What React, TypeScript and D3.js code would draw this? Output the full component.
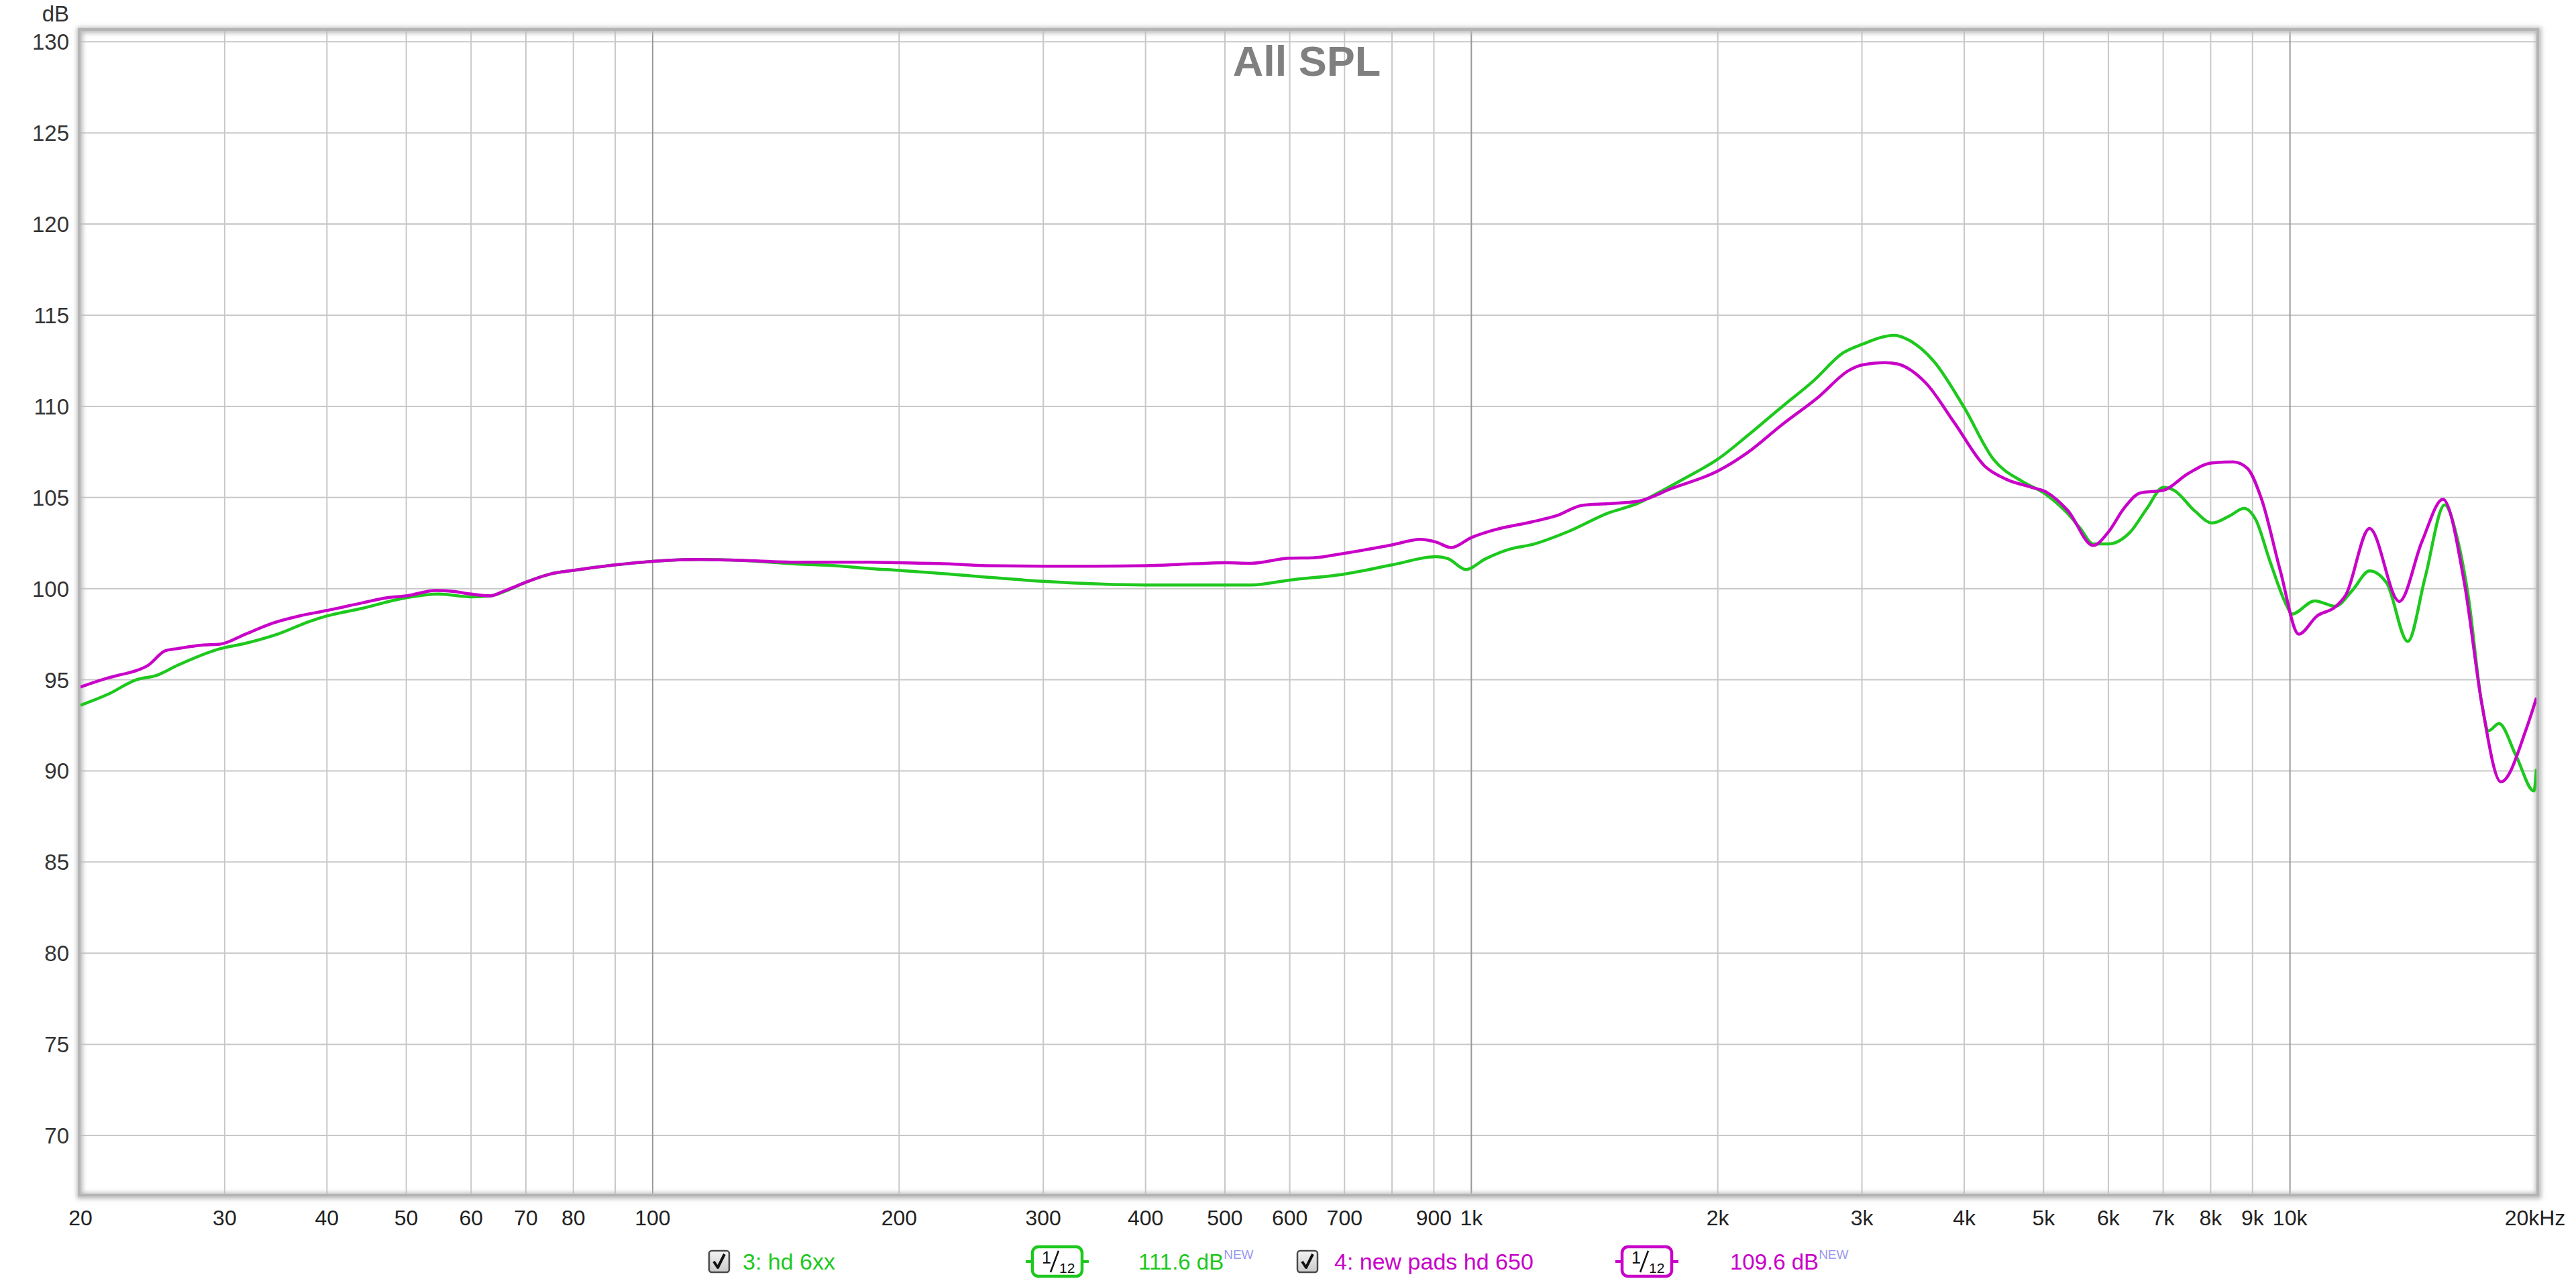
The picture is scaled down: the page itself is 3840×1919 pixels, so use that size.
import React from "react";
import * as d3 from "d3";

// Frequency response, "All SPL"
const hd6xxFreq = [
  20, 21.6, 23.4, 24.8, 26.3, 29.6, 31.8, 34.8, 38.1, 40, 44, 50, 54.8, 60, 63.3, 66, 70, 75, 80, 90,
  100, 114, 128, 150, 168, 184, 200, 245, 300, 400, 500, 538, 600, 700, 800, 906, 936, 985, 1040, 1121,
  1182, 1318, 1468, 1601, 1683, 1822, 2000, 2176, 2389, 2618, 2849, 3000, 3288, 3434, 3668, 4000, 4342,
  4714, 5000, 5356, 5545, 5748, 6000, 6380, 6688, 7000, 7215, 7647, 8034, 8445, 8784, 9086, 9436, 9924,
  10050, 10724, 11360, 11917, 12507, 13127, 13927, 14622, 15450, 16000, 16522, 17150, 17480, 18000,
  18900, 19860, 20000,
];
const hd6xxDb = [
  93.6, 94.2, 95.0, 95.25, 95.8, 96.7, 97.0, 97.5, 98.2, 98.5, 98.9, 99.5, 99.7, 99.55, 99.6, 99.85,
  100.35, 100.8, 101.0, 101.3, 101.5, 101.6, 101.55, 101.35, 101.25, 101.1, 101.0, 100.7, 100.4, 100.2,
  100.2, 100.2, 100.47, 100.8, 101.3, 101.75, 101.65, 101.05, 101.63, 102.2, 102.4, 103.16, 104.14,
  104.7, 105.2, 106.05, 107.1, 108.4, 109.93, 111.4, 112.95, 113.4, 113.9, 113.6, 112.5, 109.93, 107.1,
  105.87, 105.26, 104.1, 103.3, 102.45, 102.45, 103.1, 104.4, 105.55, 105.4, 104.27, 103.6, 104.0,
  104.4, 103.77, 101.6, 99.0, 98.6, 99.33, 99.03, 99.9, 100.97, 100.3, 97.1, 100.6, 104.6, 102.8, 99.5,
  93.7, 92.2, 92.6, 90.8, 88.9, 90.1,
];

const newPadsFreq = [
  20, 21.6, 22.5, 23.4, 24.2, 25.4, 26.2, 28.1, 29.6, 31.8, 34.3, 37, 40, 44, 47.4, 50, 54.3, 57, 60,
  63.3, 65.7, 70, 75, 80, 90, 100, 114, 128, 150, 184, 200, 230, 255, 300, 346, 400, 462, 500, 538, 600,
  640, 700, 800, 866, 906, 945, 1000, 1063, 1182, 1271, 1366, 1468, 1601, 1758, 2000, 2176, 2389, 2661,
  2889, 3000, 3201, 3311, 3587, 3891, 4236, 4502, 4826, 5038, 5356, 5748, 6000, 6268, 6565, 7011, 7500,
  8034, 8525, 8870, 9233, 9733, 10250, 10790, 11360, 11700, 12507, 13600, 14500, 15376, 16333, 17150,
  18100, 19470, 20000,
];
const newPadsDb = [
  94.6, 95.1, 95.3, 95.5, 95.8, 96.6, 96.7, 96.9, 96.95, 97.5, 98.1, 98.5, 98.8, 99.2, 99.5, 99.6, 99.9,
  99.85, 99.7, 99.6, 99.85, 100.35, 100.8, 101.0, 101.3, 101.5, 101.6, 101.55, 101.45, 101.45, 101.42,
  101.36, 101.26, 101.23, 101.23, 101.26, 101.37, 101.42, 101.39, 101.67, 101.69, 101.94, 102.4, 102.7,
  102.55, 102.25, 102.8, 103.2, 103.65, 104.0, 104.57, 104.66, 104.8, 105.5, 106.45, 107.47, 108.95,
  110.55, 111.96, 112.27, 112.4, 112.33, 111.3, 109.1, 106.73, 106.0, 105.57, 105.3, 104.27, 102.37,
  103.1, 104.4, 105.25, 105.4, 106.3, 106.9, 106.95, 106.6, 104.9, 100.97, 97.5, 98.5, 99.0, 99.65, 103.3,
  99.3, 102.6, 104.9, 100.3, 93.7, 89.4, 92.4, 94.0,
];

const gridFreqs = [
  30, 40, 50, 60, 70, 80, 90, 200, 300, 400, 500, 600, 700, 800, 900, 2000, 3000, 4000, 5000, 6000,
  7000, 8000, 9000,
];
const decadeFreqs = [100, 1000, 10000];
const xTickFreqs = [
  20, 30, 40, 50, 60, 70, 80, 100, 200, 300, 400, 500, 600, 700, 900, 1000, 2000, 3000, 4000, 5000,
  6000, 7000, 8000, 9000, 10000, 20000,
];
const xTickLabels = [
  "20", "30", "40", "50", "60", "70", "80", "100", "200", "300", "400", "500", "600", "700", "900",
  "1k", "2k", "3k", "4k", "5k", "6k", "7k", "8k", "9k", "10k", "20kHz",
];
const yTicks = [70, 75, 80, 85, 90, 95, 100, 105, 110, 115, 120, 125, 130];

const GREEN = "#1ec81e";
const MAGENTA = "#c800c8";
const FONT = "'Liberation Sans', Arial, sans-serif";

function Checkbox({ x, y }: { x: number; y: number }) {
  return (
    <g transform={`translate(${x},${y})`}>
      <rect x={0} y={0} width={30} height={32} rx={4} fill="url(#cbGrad)" stroke="#4a4a4a" strokeWidth={2.5} />
      <path d="M7,16 L13,25 L23,5" fill="none" stroke="#111" strokeWidth={4} strokeLinejoin="round" />
    </g>
  );
}

function Smoothing({ cx, cy, color }: { cx: number; cy: number; color: string }) {
  return (
    <g>
      <line x1={cx - 47} x2={cx + 47} y1={cy} y2={cy} stroke={color} strokeWidth={4} />
      <rect x={cx - 37} y={cy - 22} width={74} height={44} rx={9} fill="#fff" stroke={color} strokeWidth={4.5} />
      <text x={cx - 23} y={cy + 3} fontFamily={FONT} fontSize={25} fill="#111">1</text>
      <line x1={cx - 10} y1={cy + 16} x2={cx + 2} y2={cy - 16} stroke="#111" strokeWidth={2.5} />
      <text x={cx + 3} y={cy + 17} fontFamily={FONT} fontSize={21} fill="#111">12</text>
    </g>
  );
}

export default function App() {
  const W = 3840;
  const H = 1919;
  const left = 120;
  const right = 3781;
  const top = 46;
  const bottom = 1780;

  const x = d3.scaleLog().domain([20, 20000]).range([left, right]);
  const y = d3.scaleLinear().domain([66.8, 130.6]).range([bottom, top]);

  const line = d3
    .line<[number, number]>()
    .x((d) => x(d[0]))
    .y((d) => y(d[1]))
    .curve(d3.curveMonotoneX);

  const green = line(hd6xxFreq.map((f, i) => [f, hd6xxDb[i]] as [number, number])) || "";
  const magenta = line(newPadsFreq.map((f, i) => [f, newPadsDb[i]] as [number, number])) || "";

  const legendY = 1881;

  return (
    <svg
      width={W}
      height={H}
      style={{ position: "absolute", left: 0, top: 0, background: "#fff" }}
    >
      <defs>
        <clipPath id="plotClip">
          <rect x={left} y={top} width={right - left} height={bottom - top} />
        </clipPath>
        <filter id="frameShadow" x="-5%" y="-5%" width="110%" height="110%">
          <feGaussianBlur stdDeviation={3} />
        </filter>
        <linearGradient id="cbGrad" x1="0" y1="0" x2="0" y2="1">
          <stop offset="0%" stopColor="#f4f4f4" />
          <stop offset="100%" stopColor="#c8c8c8" />
        </linearGradient>
      </defs>

      <rect x={0} y={0} width={W} height={H} fill="#fff" />

      {/* grid */}
      {yTicks.map((t) => (
        <line key={`h${t}`} x1={left} x2={right} y1={y(t)} y2={y(t)} stroke="#c8c8c8" strokeWidth={2} />
      ))}
      {gridFreqs.map((f) => (
        <line key={`v${f}`} x1={x(f)} x2={x(f)} y1={top} y2={bottom} stroke="#c8c8c8" strokeWidth={2} />
      ))}
      {decadeFreqs.map((f) => (
        <line key={`d${f}`} x1={x(f)} x2={x(f)} y1={top} y2={bottom} stroke="#999" strokeWidth={2} />
      ))}

      {/* frame */}
      <rect
        x={left - 1}
        y={top - 1}
        width={right - left + 4}
        height={bottom - top + 4}
        fill="none"
        stroke="#bdbdbd"
        strokeWidth={9}
        filter="url(#frameShadow)"
      />
      <rect
        x={left - 2}
        y={top - 2}
        width={right - left + 4}
        height={bottom - top + 4}
        fill="none"
        stroke="#b4b4b4"
        strokeWidth={4}
      />

      {/* curves */}
      <g clipPath="url(#plotClip)">
        <path d={green} fill="none" stroke={GREEN} strokeWidth={4.5} strokeLinejoin="round" />
        <path d={magenta} fill="none" stroke={MAGENTA} strokeWidth={4.5} strokeLinejoin="round" />
      </g>

      {/* title */}
      <text
        x={1948}
        y={113}
        textAnchor="middle"
        fontFamily={FONT}
        fontWeight="bold"
        fontSize={63}
        fill="#808080"
      >
        All SPL
      </text>

      {/* y axis */}
      <text x={103} y={32} textAnchor="end" fontFamily={FONT} fontSize={33} fill="#333">
        dB
      </text>
      {yTicks.map((t) => (
        <text
          key={`yl${t}`}
          x={103}
          y={y(t) + 12}
          textAnchor="end"
          fontFamily={FONT}
          fontSize={33}
          fill="#333"
        >
          {t}
        </text>
      ))}

      {/* x axis */}
      {xTickFreqs.map((f, i) => (
        <text
          key={`xl${f}`}
          x={i === xTickFreqs.length - 1 ? x(f) - 2 : x(f)}
          y={1827}
          textAnchor="middle"
          fontFamily={FONT}
          fontSize={32}
          fill="#222"
        >
          {xTickLabels[i]}
        </text>
      ))}

      {/* legend */}
      <Checkbox x={1057} y={legendY - 16} />
      <text x={1107} y={legendY + 12} fontFamily={FONT} fontSize={34} fill={GREEN}>
        3: hd 6xx
      </text>
      <Smoothing cx={1576} cy={legendY} color={GREEN} />
      <text x={1697} y={legendY + 12} fontFamily={FONT} fontSize={33} fill={GREEN}>
        111.6 dB
        <tspan fontSize={19} dy={-16} fill="#9a9aee">NEW</tspan>
      </text>

      <Checkbox x={1934} y={legendY - 16} />
      <text x={1989} y={legendY + 12} fontFamily={FONT} fontSize={34} fill={MAGENTA}>
        4: new pads hd 650
      </text>
      <Smoothing cx={2455} cy={legendY} color={MAGENTA} />
      <text x={2579} y={legendY + 12} fontFamily={FONT} fontSize={33} fill={MAGENTA}>
        109.6 dB
        <tspan fontSize={19} dy={-16} fill="#9a9aee">NEW</tspan>
      </text>
    </svg>
  );
}
